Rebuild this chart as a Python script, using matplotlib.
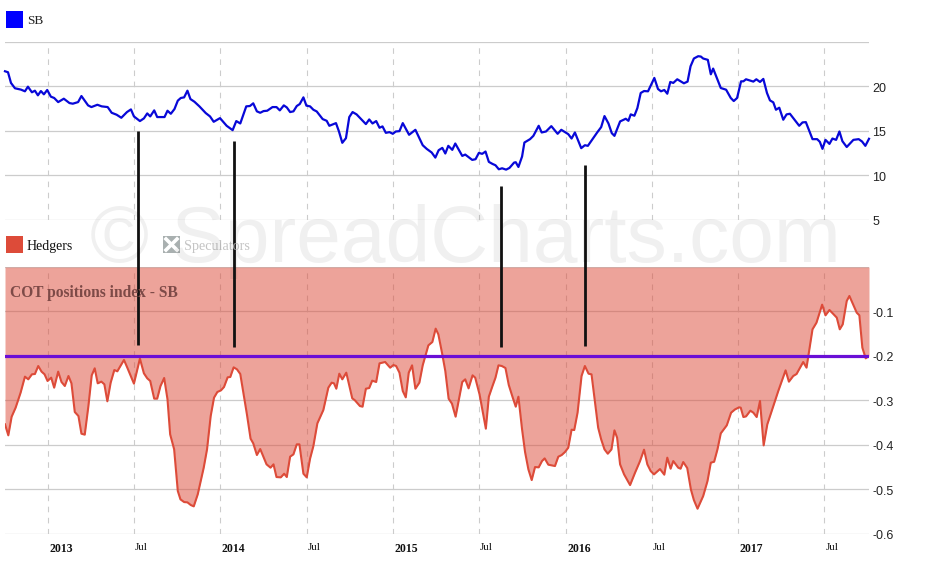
import matplotlib
matplotlib.use("Agg")
import matplotlib.pyplot as plt
from matplotlib.patches import Rectangle
from matplotlib.lines import Line2D
from matplotlib.transforms import ScaledTranslation

# x axis is weeks since the start of the chart (early Oct 2012)
sb_weeks = [0, 0.9, 1.8, 3, 4.8, 6, 6.9, 8.1, 9, 9.9, 10.8, 11.7, 12.7, 13.8, 14.8, 16, 17.7, 19.4, 20.4,
            22, 23, 25, 26, 27.8, 29.1, 30.9, 32.1, 33.6, 35, 36.7, 37.9, 38.8, 40.6, 41.8, 42.8, 43.7, 44.9,
            45.8, 48, 48.9, 49.9, 51, 52, 52.9, 53.9, 54.9, 55.8, 57, 58.5, 60.4, 61.7, 62.8, 64.7, 66.7, 68.5,
            69.6, 70.8, 72.6, 73.7, 74.7, 75.8, 76.8, 77.8, 78.9, 80.5, 81.7, 82.7, 83.9, 84.8, 85.8, 86.8, 87.8,
            88.7, 89.8, 90.7, 91.8,
            92.8, 93.8, 95.6, 96.8, 97.6, 99.6, 100.5, 101.5, 102.6, 103.6, 104.6, 105.8, 108.6, 109.6, 110.6,
            111.7, 112.7, 113.6, 114.6, 115.7, 116.7, 117.6, 118.7, 119.7, 121.6, 123.5, 125.7, 126.9, 128.4,
            129.5, 130.5, 131.6, 132.5, 133.4, 134.6, 135.5, 137.6, 138.5, 140.6, 141.6, 142.6, 143.6, 144.6,
            145.6, 146.7, 147.6, 148.6, 149.6, 150.8, 151.8, 153.2, 153.7, 154.5, 155.6, 156.3, 158, 159, 160.6,
            161.5, 162.8, 164.4, 166.3, 167.4, 169.5, 170.5, 171.5, 173.4, 174.5, 175.4, 178.2, 179.4, 180.4,
            181.6, 182.6, 183.4, 185.1,
            186.8, 187.6, 188.3, 189.4, 190.3, 191.3, 192.3, 193.5, 195.4, 196.5, 197.4, 198.4, 199.3, 200.2,
            201.1, 202.3, 204.3, 205.4, 206.3, 207.3, 208.6, 209.4, 210.1, 211.5, 212.4, 213.1, 215.4, 217,
            218.4, 219.3, 220.3, 221.5, 222.2, 223, 225.2, 226.1, 227.2, 228.2, 229.3, 230.2, 231.2, 232, 233,
            234.2, 235.2, 236.2, 239, 240, 241, 243, 244.4, 245.2, 246, 246.9, 248.1, 249, 250.1, 251.1, 252,
            253.3, 255.3, 256.9, 257.9, 258.9, 260]
sb_price = [21.66, 21.55, 20.35, 19.75, 19.6, 19.41, 19.93, 19.3, 19.48, 18.96, 19.44, 19.07, 19.56, 18.81, 18.66,
            18.2, 18.58, 18.09, 18.02, 18.2, 18.88, 17.83, 17.64, 17.9, 17.72, 17.64, 17.0, 16.78, 16.44, 17.08,
            17.38, 16.59, 16.07, 16.37, 16.93, 16.59, 17.27, 16.52, 16.52, 17.23, 16.89, 17.42, 18.36, 18.66, 18.73,
            19.48, 18.54, 18.24, 17.72, 16.97, 16.59, 15.99, 16.4, 15.54, 15.05, 16.07, 15.8, 17.72, 17.76, 18.06,
            17.16, 17.0, 17.19, 17.23, 17.64, 17.64, 17.27, 17.83, 17.6, 17.08, 17.16, 17.76, 17.98, 18.73, 17.8,
            17.72,
            17.34, 17.15, 16.29, 16.1, 15.54, 15.84, 14.9, 13.63, 14.15, 16.52, 17.08, 16.82, 15.73, 16.25, 15.8,
            16.07, 15.32, 15.47, 14.75, 14.83, 14.64, 14.9, 14.94, 15.84, 14.53, 15.09, 13.36, 12.95, 12.54,
            11.97, 12.8, 13.06, 12.43, 13.29, 12.84, 13.55, 12.16, 12.31, 11.71, 11.79, 12.5, 12.39, 12.65,
            11.49, 11.26, 11.11, 10.66, 10.77, 10.62, 10.81, 11.41, 11.45, 10.92, 12.09, 13.66, 14.04, 14.41, 15.54,
            14.79, 14.9, 15.5, 14.64, 15.09, 14.6, 14.11, 14.79, 13.03, 13.36, 13.29, 14.79, 15.39, 16.63,
            15.8, 14.71, 14.41, 16.03,
            16.33, 16.1, 16.82, 16.67, 17.53, 19.22, 19.44, 19.41, 20.91, 19.67, 19.41, 19.56, 19.14, 20.46,
            20.35, 20.76, 20.31, 20.5, 22.22, 23.09, 23.35, 23.31, 23.09, 22.94, 21.32, 21.96, 19.78, 19.59,
            18.66, 18.32, 18.66, 20.53, 20.53, 20.76, 20.5, 20.76, 20.46, 20.8, 19.22, 18.39, 18.17, 17.34, 17.57,
            16.22, 16.82, 16.89, 15.54, 15.92, 15.95, 14.04, 14.04, 13.74, 12.95, 13.96, 13.51, 14.11, 13.96, 14.9,
            13.81, 13.16, 13.96, 14.04, 13.78, 13.29, 14.08]

hedger_weeks = [0, 1, 2, 3.2, 4.7, 6, 7, 8.1, 9, 10, 11, 11.9, 12.8, 13.9, 14.8, 16, 17, 18, 19.1, 20, 21, 22.1, 23,
                24, 25.1, 26.1, 27, 27.9, 29, 29.9, 30.8, 31.8, 32.9, 33.8, 35.8, 36.8, 38.8, 40.6, 41.8, 42.8,
                43.7, 44.9, 45.8, 46.8, 47.9, 48.9, 49.7, 50.9, 52, 52.8, 53.9, 54.9, 55.9, 56.8, 58, 59.8, 60.8,
                61.9, 62.9, 63.9, 65, 65.9, 67, 67.8, 68.8, 69.8, 70.8, 72.8, 73.9, 74.7, 75.8, 76.8, 78.7, 79.9,
                80.8, 81.7, 83, 84, 84.8, 85.8, 86.8, 87.8, 88.6, 89.8, 90.8, 91.8,
                92.8, 94, 95.8, 97.3, 98.3, 99, 99.7, 100.6, 101.5, 102.7, 104.5, 105.3, 106.8, 107.6, 108.6, 109.6,
                110.5, 111.7, 112.7, 114.4, 115.9, 116.9, 117.7, 118.7, 119.7, 120.6, 121.5, 122.5, 123.5, 124.7,
                125.7, 127.4, 128.6, 129.6, 130.4, 131.5, 132.5, 133.5, 134.5, 135.6, 137.6, 138.5, 139.5, 140.7,
                141.5, 142.8, 144.7, 145.6, 146.7, 147.6, 148.5, 149.5, 150.6, 151.6, 152.8, 153.7, 154.5, 155.6,
                156.5, 157.5, 158.5, 159.5, 160.6, 161.6, 162.4, 163.5, 164.5, 165.5, 166.5, 167.5, 168.5, 169.5,
                170.5, 171.3, 172.3, 173.5, 174.5, 175.6, 176.5, 178.5, 179.4, 180.4, 181.4, 182.5, 183.4, 184.2,
                185.1,
                186.3, 188.1, 189.6, 191.1, 192.3, 193.3, 194.3, 195.3, 197.1, 198.4, 199.3, 200.3, 201.1, 202.6,
                203.3, 204.1, 205.3, 206.4, 207.3, 208.4, 210.1, 211.4, 212.4, 213.4, 214.4, 215.4, 217.2, 218.5,
                219.7, 220.9, 221.4, 222.2, 223, 224.3, 225.2, 226.2, 227.2, 228.3, 229.4, 231.2, 232.7, 234.9,
                235.9, 237.2, 238.2, 240.2, 241.2, 243, 244.2, 245.9, 246.9, 248.1, 250.3, 251.2, 252.1, 253.3,
                254.1, 256.3, 257.1, 258, 259, 260]
hedger_index = [-.3542, -.379, -.337, -.3167, -.2829, -.2469, -.2529, -.2416, -.2409, -.2229, -.2356, -.2416, -.2566,
                -.2491, -.2717, -.2356, -.2589, -.2679, -.2454, -.2619, -.3265, -.3355, -.3753, -.3775, -.3130,
                -.2439, -.2281, -.2619, -.2581, -.2641, -.3024, -.2604, -.2319, -.2349, -.2093, -.2266, -.2626,
                -.2063, -.2394, -.2506, -.2566, -.2964, -.2964, -.2679, -.2499, -.2979, -.3768, -.4105, -.5044,
                -.5232, -.5292, -.5299, -.5359, -.5389, -.5119, -.4518, -.4105, -.3355, -.2942, -.2814, -.2777,
                -.2702, -.2484, -.2476, -.2259, -.2304, -.2409, -.3317, -.3865, -.397, -.4233, -.4098, -.4443,
                -.4518, -.4443, -.4729, -.4736, -.4654, -.4729, -.427, -.4218, -.3993, -.3993, -.4654, -.4736,
                -.4316,
                -.4031, -.352, -.322, -.2717, -.2604, -.2619, -.2740, -.2402, -.2529, -.2379, -.2957, -.3002, -.313,
                -.3145, -.274, -.2725, -.2559, -.2589, -.2169, -.2139, -.2267, -.2207, -.2229, -.2379, -.2792,
                -.2935, -.2379, -.2214, -.274, -.2604, -.2214, -.1764, -.1689, -.1388, -.1516, -.1929, -.2342,
                -.2965, -.3077, -.337, -.2589, -.2529, -.2732, -.2439, -.2492, -.2867, -.3640, -.292, -.2680,
                -.2492, -.2214, -.2229, -.2274, -.2657, -.2942, -.3145, -.292, -.3655, -.4166, -.4556, -.4797,
                -.4504, -.4511, -.4369, -.4309, -.4451, -.4466, -.4481, -.4271, -.4234, -.4166, -.4068, -.3663,
                -.3671, -.328, -.2454, -.2229, -.2402, -.2417, -.3618, -.388, -.4106, -.4204, -.4106, -.3678,
                -.3843, -.4444,
                -.4669, -.491, -.4631, -.4369, -.4113, -.4444, -.4594, -.4669, -.4549, -.4676, -.4293, -.4541,
                -.4369, -.4519, -.4541, -.4391, -.4526, -.5007, -.5247, -.5442, -.5157, -.4819, -.4406, -.4384,
                -.4106, -.3745, -.3565, -.328, -.3205, -.316, -.3167, -.3378, -.3363, -.3235, -.328, -.3378,
                -.3017, -.4016, -.3543, -.313, -.2792, -.2327, -.2582, -.2454, -.2409, -.2139, -.2266, -.1403,
                -.1253, -.0848, -.1088, -.0968, -.1140, -.1403, -.1291, -.0765, -.0652, -.1028, -.1088, -.1816,
                -.2056, -.2004]

tick_weeks = [12.94, 38.67, 64.7, 90.73, 116.76, 142.49, 168.67, 194.55, 220.58, 246.6]
tick_labels = ["2013", "Jul", "2014", "Jul", "2015", "Jul", "2016", "Jul", "2017", "Jul"]

price_ticks = [5, 10, 15, 20, 25]
price_labels = ["5", "10", "15", "20", ""]
index_ticks = [-0.6, -0.5, -0.4, -0.3, -0.2, -0.1, 0]
index_labels = ["-0.6", "-0.5", "-0.4", "-0.3", "-0.2", "-0.1", ""]

threshold = -0.2
# hand drawn black markers, in index units of the lower panel
marker_weeks = [40.0, 68.8, 149.4, 174.4]
marker_tops = [0.3056, 0.2831, 0.1818, 0.2291]
marker_bottoms = [-0.1764, -0.1809, -0.1809, -0.1786]

W, H = 930, 578
GRID = "#cccccc"
SERIF = "Liberation Serif"
SANS = "Liberation Sans"


def panel(fig, left, top, right, bottom):
    return fig.add_axes([left / W, 1 - bottom / H, (right - left) / W, (bottom - top) / H])


def style_axes(ax, yticks, ylabels):
    for s in ax.spines.values():
        s.set_visible(False)
    ax.patch.set_alpha(0)
    ax.set_xlim(0, 260)
    ax.set_yticks(yticks, ylabels)
    ax.yaxis.tick_right()
    ax.tick_params(axis="both", length=0)
    ax.tick_params(axis="y", pad=2.2, labelsize=9, labelcolor="#222222")
    down = ScaledTranslation(0, -1 / 100, ax.figure.dpi_scale_trans)
    for lab in ax.get_yticklabels():
        lab.set_fontfamily(SANS)
        lab.set_transform(lab.get_transform() + down)
    ax.set_xticks(tick_weeks)
    ax.grid(axis="y", color=GRID, lw=0.9, zorder=0)
    ax.grid(axis="x", color=GRID, lw=0.8, ls=(0, (5, 5)), zorder=0)
    ax.set_axisbelow(True)


fig = plt.figure(figsize=(W / 100, H / 100), dpi=100)

ax1 = panel(fig, 5, 41.5, 869, 219.7)
ax1.set_ylim(5, 25)
style_axes(ax1, price_ticks, price_labels)
ax1.tick_params(axis="x", labelbottom=False)
ax1.plot(sb_weeks, sb_price, color="#0808d8", lw=1.6, solid_joinstyle="round", clip_on=False)

ax2 = panel(fig, 5, 267, 869, 533.5)
ax2.set_ylim(-0.6, 0)
style_axes(ax2, index_ticks, index_labels)
ax2.set_xticks(tick_weeks, tick_labels)
ax2.tick_params(axis="x", pad=6.5)
shift = ScaledTranslation(1.5 / 100, 0, fig.dpi_scale_trans)
for lab, txt in zip(ax2.get_xticklabels(), tick_labels):
    lab.set_ha("left")
    lab.set_transform(lab.get_transform() + shift)
    lab.set_fontfamily(SERIF)
    lab.set_fontsize(8)
    lab.set_color("#111111")
    if txt != "Jul":
        lab.set_fontweight("bold")
        lab.set_fontsize(8.5)
ax2.fill_between(hedger_weeks, hedger_index, 0, color="#dd4b39", alpha=0.51, lw=0, zorder=2)
ax2.plot(hedger_weeks, hedger_index, color="#dd4b39", lw=1.5, zorder=3)
ax2.axhline(threshold, color="#6a0fd6", lw=2.3, zorder=4)
ax2.vlines(marker_weeks, marker_bottoms, marker_tops, color="#111111", lw=2, clip_on=False, zorder=5)

ax2.text(10 / W, 1 - 293 / H, "COT positions index - SB", transform=fig.transFigure, family=SERIF,
         weight="bold", size=11.2, color="#7d4a47", va="center", zorder=6)

# watermark
fig.text(465 / W, 1 - 262 / H, "\u00a9 SpreadCharts.com", family=SANS, size=57.8, color="#000000", alpha=0.06,
         ha="center", va="baseline", zorder=10)

# legend
fig.add_artist(Rectangle((6 / W, 1 - 28 / H), 17 / W, 17 / H, transform=fig.transFigure, color="#0000ff", lw=0))
fig.text(27 / W, 1 - 21 / H, "SB", family=SERIF, size=9.5, color="#222222", va="center")
fig.add_artist(Rectangle((6 / W, 1 - 253 / H), 17 / W, 17 / H, transform=fig.transFigure, color="#dd4b39", lw=0))
fig.text(27 / W, 1 - 246 / H, "Hedgers", family=SERIF, size=10, color="#111111", va="center")
fig.add_artist(Rectangle((163 / W, 1 - 253 / H), 17 / W, 17 / H, transform=fig.transFigure, color="#a9b0b0", lw=0))
for xs, ys in [((166, 177), (239, 250)), ((166, 177), (250, 239))]:
    fig.add_artist(Line2D([x / W for x in xs], [1 - y / H for y in ys], transform=fig.transFigure,
                          color="white", lw=2.6))
fig.text(184 / W, 1 - 246 / H, "Speculators", family=SERIF, size=10.2, color="#c4c4c4", va="center")

fig.savefig("out.png", dpi=100)
